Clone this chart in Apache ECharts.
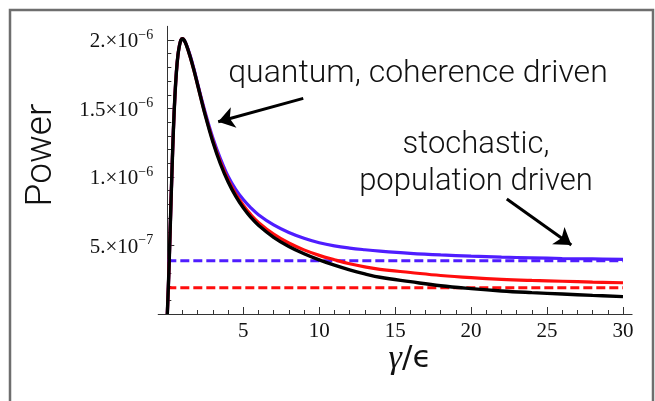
<!DOCTYPE html>
<html>
<head>
<meta charset="utf-8">
<script src="https://cdn.jsdelivr.net/npm/echarts@6/dist/echarts.min.js"></script>
<style>
html,body{margin:0;padding:0;background:#fff;}
#chart{width:655px;height:401px;}
</style>
</head>
<body>
<div id="chart"></div>
<script>
// x values: gamma / epsilon
const gammaOverEps = [0, 0.1, 0.2, 0.3, 0.4, 0.5, 0.6, 0.7, 0.8, 0.9, 1.0, 1.1, 1.25, 1.5, 1.75, 2, 2.5, 3, 3.5, 4, 4.5, 5, 5.5, 6, 7, 8, 9, 10, 11, 12, 13, 14, 16, 18, 20, 22, 24, 26, 28, 30];
// Power values, in units of 1e-6
const powerBlack = [0, 0.3, 0.66, 1.02, 1.34, 1.59, 1.77, 1.89, 1.96, 2.0, 2.01, 2.0, 1.965, 1.88, 1.78, 1.67, 1.45, 1.255, 1.095, 0.965, 0.86, 0.775, 0.705, 0.648, 0.56, 0.493, 0.44, 0.395, 0.356, 0.322, 0.293, 0.268, 0.236, 0.206, 0.185, 0.168, 0.156, 0.146, 0.136, 0.127];
const powerRed   = [0, 0.3, 0.66, 1.02, 1.34, 1.59, 1.77, 1.89, 1.96, 2.0, 2.01, 2.0, 1.965, 1.88, 1.78, 1.67, 1.455, 1.265, 1.108, 0.98, 0.877, 0.794, 0.725, 0.669, 0.583, 0.518, 0.468, 0.428, 0.396, 0.367, 0.344, 0.326, 0.303, 0.281, 0.265, 0.253, 0.245, 0.239, 0.233, 0.228];
const powerBlue  = [0, 0.3, 0.66, 1.02, 1.34, 1.59, 1.77, 1.89, 1.96, 2.0, 2.01, 2.0, 1.968, 1.888, 1.79, 1.68, 1.47, 1.285, 1.133, 1.005, 0.91, 0.835, 0.775, 0.725, 0.65, 0.595, 0.553, 0.52, 0.497, 0.481, 0.469, 0.459, 0.443, 0.431, 0.422, 0.415, 0.41, 0.405, 0.402, 0.399];
// Stochastic (population driven) levels, units of 1e-6
const levelBlue = 0.389;
const levelRed = 0.192;
const levelRange = [0, 30];
// Ticks
const xMajorTicks = [5, 10, 15, 20, 25, 30];
const xMinorTicks = [1, 2, 3, 4, 6, 7, 8, 9, 11, 12, 13, 14, 16, 17, 18, 19, 21, 22, 23, 24, 26, 27, 28, 29];
const yMajorTicks = [0.5, 1, 1.5, 2];
const yMinorTicks = [0.1, 0.2, 0.3, 0.4, 0.6, 0.7, 0.8, 0.9, 1.1, 1.2, 1.3, 1.4, 1.6, 1.7, 1.8, 1.9];
const yTickLabels = {0.5: ['5.×10', '−7'], 1: ['1.×10', '−6'], 1.5: ['1.5×10', '−6'], 2: ['2.×10', '−6']};
// Annotation arrows (data coords: [gamma/eps, power 1e-6])
const arrowQuantum = [[8.95, 1.574], [3.35, 1.403]];
const arrowStochastic = [[22.35, 0.84], [26.6, 0.504]];

const pairs = (xs, ys) => xs.map((x, i) => [x, ys[i]]);

const chart = echarts.init(document.getElementById('chart'), null, {renderer: 'canvas'});
const serif = '"Liberation Serif", "DejaVu Serif", serif';
const sans = 'Roboto, "Open Sans", "Liberation Sans", sans-serif';

const option = {
  animation: false,
  backgroundColor: '#fff',
  grid: {left: 158.2, right: 22.9, top: 26.3, bottom: 87, containLabel: false},
  xAxis: [{
    type: 'value', min: -0.6, max: 30.6, position: 'bottom',
    axisLine: {show: true, onZero: true, lineStyle: {color: '#333', width: 1}},
    axisTick: {show: true, inside: true, length: 7, customValues: xMajorTicks, lineStyle: {color: '#333'}},
    axisLabel: {show: true, customValues: xMajorTicks, margin: 7, color: '#111', fontFamily: serif, fontSize: 21},
    splitLine: {show: false}
  }, {
    type: 'value', min: -0.6, max: 30.6, position: 'bottom',
    axisLine: {show: false},
    axisTick: {show: true, inside: true, length: 4, customValues: xMinorTicks, lineStyle: {color: '#333'}},
    axisLabel: {show: false},
    splitLine: {show: false}
  }],
  yAxis: [{
    type: 'value', min: 0, max: 2.1, position: 'left',
    axisLine: {show: true, onZero: true, lineStyle: {color: '#333', width: 1}},
    axisTick: {show: true, inside: true, length: 7, customValues: yMajorTicks, lineStyle: {color: '#333'}},
    axisLabel: {
      show: true, customValues: yMajorTicks, margin: 5,
      formatter: v => { const t = yTickLabels[v]; return t ? '{m|' + t[0] + '}{s|' + t[1] + '}' : ''; },
      rich: {
        m: {fontFamily: serif, fontSize: 21, color: '#111', lineHeight: 24, verticalAlign: 'bottom'},
        s: {fontFamily: serif, fontSize: 14, color: '#111', lineHeight: 24, verticalAlign: 'top'}
      }
    },
    splitLine: {show: false}
  }, {
    type: 'value', min: 0, max: 2.1, position: 'left',
    axisLine: {show: false, onZero: true},
    axisTick: {show: true, inside: true, length: 4, customValues: yMinorTicks, lineStyle: {color: '#333'}},
    axisLabel: {show: false},
    splitLine: {show: false}
  }],
  series: [
    {
      name: 'stochastic blue', type: 'line', showSymbol: false, silent: true,
      data: levelRange.map(x => [x, levelBlue]),
      lineStyle: {color: '#4f1dff', width: 3, type: [9, 4]}
    },
    {
      name: 'stochastic red', type: 'line', showSymbol: false, silent: true,
      data: levelRange.map(x => [x, levelRed]),
      lineStyle: {color: '#ff0d0d', width: 3, type: [9, 4]}
    },
    {
      name: 'blue', type: 'line', showSymbol: false, smooth: 0.4, silent: true,
      data: pairs(gammaOverEps, powerBlue),
      lineStyle: {color: '#4f1dff', width: 3.2}
    },
    {
      name: 'red', type: 'line', showSymbol: false, smooth: 0.4, silent: true,
      data: pairs(gammaOverEps, powerRed),
      lineStyle: {color: '#ff0d0d', width: 3.2}
    },
    {
      name: 'black', type: 'line', showSymbol: false, smooth: 0.4, silent: true,
      data: pairs(gammaOverEps, powerBlack),
      lineStyle: {color: '#000', width: 3.4},
      markLine: {
        silent: true, animation: false,
        symbol: ['none', 'arrow'], symbolSize: 16,
        lineStyle: {color: '#000', width: 3, type: 'solid'},
        label: {show: false},
        data: [
          [{coord: arrowQuantum[0]}, {coord: arrowQuantum[1]}],
          [{coord: arrowStochastic[0]}, {coord: arrowStochastic[1]}]
        ]
      }
    }
  ],
  graphic: [
    {type: 'rect', shape: {x: 10, y: 10, width: 643, height: 420}, style: {fill: 'none', stroke: '#6e6e6e', lineWidth: 2.5}, silent: true},
    {type: 'text', x: 42, y: 155, rotation: Math.PI / 2,
      style: {text: 'Power', fontFamily: sans, fontWeight: 300, fontSize: 37, fill: '#111', align: 'center', verticalAlign: 'middle'}},
    {type: 'text', x: 410, y: 359,
      style: {text: '{g|γ}{r|/ϵ}', align: 'center', verticalAlign: 'middle',
        rich: {g: {fontFamily: serif, fontStyle: 'italic', fontSize: 34, fill: '#111'}, r: {fontFamily: '"DejaVu Sans", sans-serif', fontSize: 31, fill: '#111'}}}},
    {type: 'text', x: 418, y: 74,
      style: {text: 'quantum, coherence driven', fontFamily: sans, fontWeight: 300, fontSize: 32, fill: '#111', align: 'center', verticalAlign: 'middle'}},
    {type: 'text', x: 476, y: 164,
      style: {text: 'stochastic,\npopulation driven', fontFamily: sans, fontWeight: 300, fontSize: 31, lineHeight: 37, fill: '#111', align: 'center', verticalAlign: 'middle'}}
  ]
};
chart.setOption(option);
</script>
</body>
</html>
